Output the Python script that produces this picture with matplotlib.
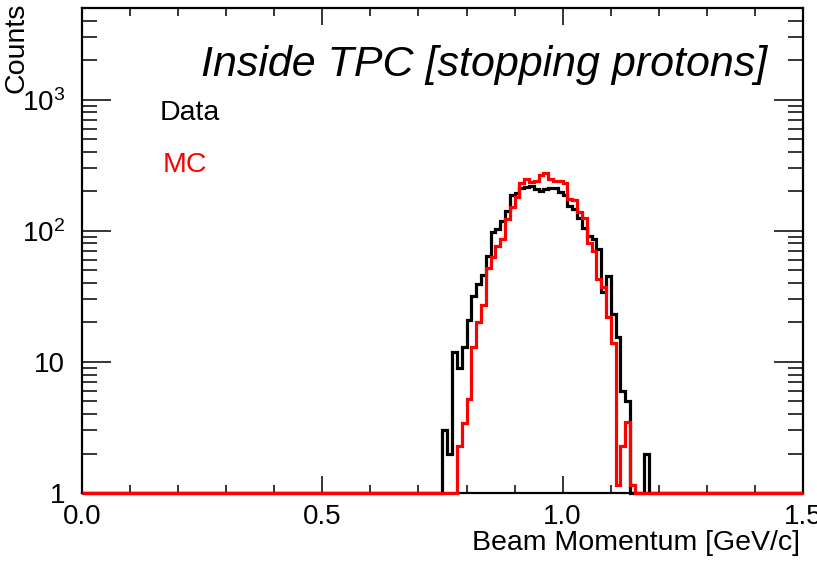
import matplotlib
matplotlib.use("Agg")
import matplotlib.pyplot as plt
import numpy as np
from matplotlib.ticker import LogLocator, MultipleLocator, NullFormatter

plt.rcParams['font.family'] = ['Liberation Sans', 'DejaVu Sans']
plt.rcParams['mathtext.fontset'] = 'custom'
plt.rcParams['mathtext.rm'] = 'Liberation Sans'
plt.rcParams['mathtext.it'] = 'Liberation Sans:italic'

# 150 bins of 0.01 GeV/c between 0 and 1.5
n_bins = 150
x_min, x_max = 0.0, 1.5

# Data counts, first filled bin starts at 0.75
data_first_bin = 75
data_counts = [3, 2, 12, 9, 13, 21, 32, 39, 46, 64,
               97, 104, 119, 142, 187, 193, 212, 215, 221, 208,
               202, 208, 211, 211, 196, 186, 155, 146, 125, 105,
               92, 86, 72, 34, 45, 23, 15.5, 6, 5, 0,
               0, 0, 2]

# MC counts, first filled bin starts at 0.78
mc_first_bin = 78
mc_counts = [2.3, 3.4, 5.2, 13, 20, 27, 52, 63, 77, 87,
             124, 151, 180, 230, 248, 235, 240, 268, 274, 248,
             240, 238, 232, 175, 172, 138, 126, 81, 70, 43,
             37, 22, 14, 1.15, 2.3, 3.5, 1.15]

y_min, y_max = 1, 5000


def full_hist(first_bin, counts):
    h = np.zeros(n_bins)
    h[first_bin:first_bin + len(counts)] = counts
    # empty bins sit on the bottom of the frame, like ROOT does on log scale
    return np.maximum(h, y_min)


edges = np.linspace(x_min, x_max, n_bins + 1)

fig = plt.figure(figsize=(8.17, 5.62), dpi=100)
ax = fig.add_axes([82 / 817, 69 / 562, 721 / 817, 485 / 562])

ax.stairs(full_hist(data_first_bin, data_counts), edges, baseline=None,
          color='black', lw=2.3, zorder=3, clip_on=False)
ax.stairs(full_hist(mc_first_bin, mc_counts), edges, baseline=None,
          color='#ff0000', lw=2.3, zorder=4, clip_on=False)

ax.set_yscale('log')
ax.set_xlim(x_min, x_max)
ax.set_ylim(y_min, y_max)

ax.xaxis.set_major_locator(MultipleLocator(0.5))
ax.xaxis.set_minor_locator(MultipleLocator(0.1))
ax.set_xticks([0.0, 0.5, 1.0, 1.5], labels=['0.0', '0.5', '1.0', '1.5'])
ax.set_yticks([1, 10, 100, 1000], labels=['1', '10', r'$10^{2}$', r'$10^{3}$'])
ax.yaxis.set_minor_locator(LogLocator(base=10, subs=np.arange(2, 10)))
ax.yaxis.set_minor_formatter(NullFormatter())

ax.tick_params(which='both', direction='in', top=True, right=True,
               width=1.1, color='black', labelsize=20)
ax.tick_params(axis='x', which='major', length=12, pad=8)
ax.tick_params(axis='x', which='minor', length=6)
ax.tick_params(axis='y', which='major', length=21, pad=12)
ax.tick_params(axis='y', which='minor', length=11)

for sp in ax.spines.values():
    sp.set_linewidth(1.6)

fig.text(800 / 817, 1 - 543 / 562, 'Beam Momentum [GeV/c]', ha='right',
         va='center', fontsize=20.5)
fig.text(17 / 817, 1 - 3 / 562, 'Counts', rotation=90, ha='center',
         va='top', fontsize=20.5)

ax.text(0.951, 0.882, 'Inside TPC [stopping protons]', transform=ax.transAxes,
        ha='right', va='center', fontsize=31, style='italic')
ax.text(0.108, 0.784, 'Data', transform=ax.transAxes, ha='left',
        va='center', fontsize=20.5, color='black')
ax.text(0.112, 0.676, 'MC', transform=ax.transAxes, ha='left',
        va='center', fontsize=20.5, color='#ff0000')

fig.savefig('out.png', dpi=100)
